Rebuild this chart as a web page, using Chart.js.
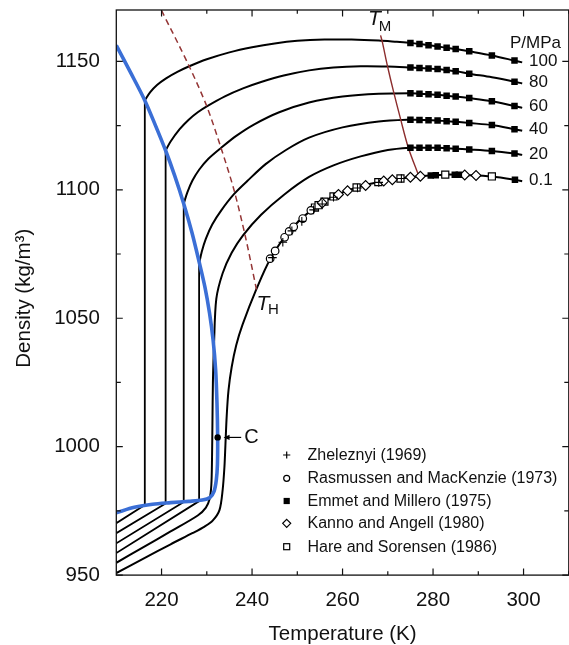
<!DOCTYPE html>
<html><head><meta charset="utf-8">
<script src="https://cdn.jsdelivr.net/npm/chart.js@4.4.1/dist/chart.umd.min.js"></script>
<style>html,body{margin:0;padding:0;background:#fff;overflow:hidden;width:569px;height:645px}canvas{display:block}</style>
</head><body><canvas id="c" width="575" height="645"></canvas>
<script>
// ---- tick labels ----
const xTicks = [220, 240, 260, 280, 300];
const xMinor = [230, 250, 270, 290, 310];
const yTicks = [950, 1000, 1050, 1100, 1150];
const yMinor = [975, 1025, 1075, 1125];

// ---- isobars (T in K, density kg/m3) ----
const isoLabels = ['100', '80', '60', '40', '20', '0.1'];
const labelRho = [1150.2, 1142.0, 1132.6, 1123.7, 1114.0, 1103.8];

const low100 = [[210,970.2],[216.3,977.3],[216.3,1134.8]];
const low80  = [[210,966.3],[220.9,977.9],[220.9,1115.3]];
const low60  = [[210,962.4],[224.9,978.5],[224.9,1094.6]];
const low40  = [[210,958.6],[228.3,978.8],[228.3,1071.3]];

const iso100 = [[216.3,1134.8],[217.5,1138.0],[219,1140.8],[221,1143.4],[223.5,1145.9],[226,1148.0],[230,1150.8],[235,1153.5],[240,1155.5],[245,1157.0],[250,1158.0],[256,1158.5],[262,1158.5],[268,1158.1],[272,1157.6],[275,1157.2],[277,1156.8],[279,1156.3],[281,1155.8],[283,1155.3],[285,1154.8],[288,1153.9],[293,1152.3],[298,1150.3],[299.7,1149.6]];
const iso80 = [[220.9,1115.3],[222,1118.8],[224,1123.6],[226,1127.3],[228,1130.2],[230,1132.5],[234,1136.4],[238,1139.5],[242,1142.0],[247,1144.5],[252.6,1146.5],[258,1147.6],[264,1148.1],[270,1148.0],[275,1147.6],[277,1147.4],[279,1147.2],[281,1147.0],[283,1146.6],[285,1146.2],[288,1145.2],[293,1143.8],[298,1142.1],[299.7,1141.4]];
const iso60 = [[224.9,1094.6],[225.7,1099.0],[226.8,1103.5],[228.3,1107.8],[230.3,1112.0],[233.2,1116.4],[236.5,1121.0],[240.5,1125.5],[246,1130.2],[252.6,1134.0],[260,1136.3],[268,1137.4],[275,1137.6],[277,1137.4],[279,1137.2],[281,1137.0],[283,1136.6],[285,1136.3],[288,1135.7],[293,1134.5],[298,1132.6],[299.7,1131.9]];
const iso40 = [[228.3,1071.3],[228.9,1076.0],[229.8,1081.0],[231.2,1086.5],[233.2,1092.0],[236,1098.3],[239,1103.5],[243,1110.0],[247.5,1115.5],[252.6,1120.3],[260,1124.3],[268,1126.6],[275,1127.3],[277,1127.2],[279,1127.1],[281,1127.0],[283,1126.7],[285,1126.5],[288,1126.0],[293,1125.2],[298,1123.6],[299.7,1123.0]];
const iso20 = [[210,954.8],[216,960.9],[222,967.0],[228,973.2],[229.8,976.3],[230.6,979.5],[231.0,985],[231.15,995],[231.25,1010],[231.35,1025],[231.6,1040],[232.1,1057.5],[233.5,1067.5],[235.5,1075.5],[238,1082.3],[242,1090.3],[247,1098],[252.6,1105],[258,1109.5],[264,1113],[270,1115.5],[275,1116.4],[277,1116.4],[279,1116.4],[281,1116.4],[283,1116.2],[285,1116.0],[288,1115.7],[293,1115.1],[298,1114.1],[299.7,1113.6]];
const iso01 = [[210,950.8],[216,956.4],[222,962.0],[226.9,966.4],[229.5,968.9],[231.3,971.2],[232.8,975.3],[233.5,983.1],[233.9,992.2],[234.1,1000],[234.4,1012],[234.8,1022],[235.5,1031],[236.5,1039.5],[237.9,1047.5],[241,1061.5],[244,1073.0],[248.2,1083.8],[253,1092],[257.8,1097.2],[262.9,1100.8],[269.1,1103.4],[275.4,1105.0],[282.7,1105.9],[288,1105.7],[293,1105.2],[298.1,1103.9],[299.7,1103.3]];

// ---- blue boundary line, T_H and T_M lines ----
const blueLine = [[210,1156.2],[213.2,1145.5],[216.3,1134.8],[218.6,1125.3],[220.9,1115.3],[222.9,1105.5],[224.9,1094.6],[226.7,1083.5],[228.3,1072.0],[229.6,1062],[230.6,1052],[231.4,1041.4],[231.95,1030],[232.25,1017],[232.4,1003.6],[232.35,993],[232.1,987],[231.6,982.6],[230.7,980.2],[229,979.2],[226,978.7],[222,978.2],[218,977.6],[214,976.4],[210,974.3]];
const thLine = [[220.0,1169.8],[226.0,1148.5],[230.0,1132.5],[233.2,1116],[236.0,1100],[238.5,1082],[241.0,1061]];
const tmLine = [[268.4,1160.1],[268.8,1157.5],[269.9,1148.4],[271.3,1138.0],[272.8,1127.7],[274.5,1116.6],[276.8,1105.6]];
const critPoint = [[232.4,1003.6]];

// ---- experimental data ----
const emmetT = [275,277,279,281,283,285,288,293,298];
const em100 = [1157.2,1156.8,1156.3,1155.8,1155.3,1154.8,1153.9,1152.3,1150.3];
const em80  = [1147.6,1147.4,1147.2,1147.0,1146.6,1146.2,1145.2,null,1142.1];
const em60  = [1137.6,1137.4,1137.2,1137.0,1136.6,1136.3,1135.7,1134.5,1132.6];
const em40  = [1127.3,1127.2,1127.1,1127.0,1126.7,1126.5,1126.0,1125.2,1123.6];
const em20  = [1116.4,1116.4,1116.4,1116.4,1116.2,1116.0,1115.7,1115.1,1114.1];
const em01T = [279.5,280.6,284.8,285.7,298.1];
const em01  = [1105.6,1105.7,1105.9,1105.9,1103.9];
const rasT = [244.0,245.1,247.2,248.2,249.2,251.2,253.0];
const rasD = [1073.2,1076.2,1081.5,1083.8,1085.6,1088.8,1092.0];
const hareT = [253.9,254.7,256.0,258.0,263.1,267.9,272.8,282.7,293.0];
const hareD = [1093.1,1094.0,1095.4,1097.4,1100.9,1103.0,1104.4,1105.9,1105.2];
const kanT = [255.5,259.1,261.1,265.1,269.1,271.0,275.0,277.2,287.0,289.5];
const kanD = [1094.9,1098.2,1099.6,1101.7,1103.4,1103.9,1104.9,1105.3,1105.8,1105.6];
const zhT = [244.5,246.8,248.8,251.0,253.6,255.5,258.0,263.3,268.0,273.0];
const zhD = [1073.6,1079.6,1084.0,1087.7,1092.2,1094.5,1097.1,1100.7,1102.9,1104.4];

const legendLabels = ['Zheleznyi (1969)','Rasmussen and MacKenzie (1973)','Emmet and Millero (1975)','Kanno and Angell (1980)','Hare and Sorensen (1986)'];

const FF = '"Liberation Sans", Arial, Helvetica, sans-serif';
const pts = a => a.map(p => ({x:p[0], y:p[1]}));
const zip = (t, d) => t.map((v,i) => d[i] == null ? null : {x:v, y:d[i]}).filter(Boolean);

const lineDs = (data, color, w, tension, order, dash) => ({
  data: pts(data), showLine:true, borderColor:color, borderWidth:w, tension:tension,
  pointRadius:0, fill:false, order:order, borderDash: dash || [], borderCapStyle:'butt', borderJoinStyle:'round'
});

const datasets = [
  // markers
  {data: zip(zhT, zhD), pointStyle:'cross', pointRadius:4.3, borderColor:'#000', borderWidth:1.1, order:0},
  {data: zip(rasT, rasD), pointStyle:'circle', pointRadius:3.8, backgroundColor:'#fff', borderColor:'#000', borderWidth:1.2, order:0},
  {data: [].concat(zip(emmetT,em100), zip(emmetT,em80), zip(emmetT,em60), zip(emmetT,em40), zip(emmetT,em20), zip(em01T,em01)), pointStyle:'rect', pointRadius:4.6, backgroundColor:'#000', borderColor:'#000', borderWidth:0, order:0},
  {data: zip(kanT, kanD), pointStyle:'rectRot', pointRadius:4.9, backgroundColor:'#fff', borderColor:'#000', borderWidth:1.2, order:0},
  {data: zip(hareT, hareD), pointStyle:'rect', pointRadius:5.0, backgroundColor:'#fff', borderColor:'#000', borderWidth:1.2, order:0},
  {data: pts(critPoint), pointStyle:'circle', pointRadius:3.2, backgroundColor:'#000', borderColor:'#000', borderWidth:0, order:0},
  // lines
  lineDs(tmLine, '#8c2d2d', 1.4, 0.3, 1),
  lineDs(thLine, '#943535', 1.5, 0.3, 1, [6,4]),
  lineDs(blueLine, '#3b6fd6', 3.6, 0.3, 2),
  lineDs(low100, '#000', 1.8, 0, 3), lineDs(low80, '#000', 1.8, 0, 3),
  lineDs(low60, '#000', 1.8, 0, 3), lineDs(low40, '#000', 1.8, 0, 3),
  lineDs(iso100, '#000', 2, 0.3, 3), lineDs(iso80, '#000', 2, 0.3, 3),
  lineDs(iso60, '#000', 2, 0.3, 3), lineDs(iso40, '#000', 2, 0.3, 3),
  lineDs(iso20, '#000', 2, 0.3, 3), lineDs(iso01, '#000', 2, 0.3, 3)
];

const deco = {
  id: 'deco',
  afterDatasetsDraw(chart) {
    const {ctx, chartArea: a, scales: {x, y}} = chart;
    ctx.save();
    ctx.strokeStyle = '#111'; ctx.lineWidth = 1.3;
    ctx.strokeRect(a.left, a.top, a.right - a.left, a.bottom - a.top);
    ctx.lineWidth = 1.2;
    const xt = (v, len) => { const px = x.getPixelForValue(v); ctx.beginPath();
      ctx.moveTo(px, a.bottom); ctx.lineTo(px, a.bottom - len); ctx.moveTo(px, a.top); ctx.lineTo(px, a.top + len); ctx.stroke(); };
    const yt = (v, len) => { const py = y.getPixelForValue(v); ctx.beginPath();
      ctx.moveTo(a.left, py); ctx.lineTo(a.left + len, py); ctx.moveTo(a.right, py); ctx.lineTo(a.right - len, py); ctx.stroke(); };
    xTicks.forEach(v => xt(v, 6.5)); xMinor.forEach(v => xt(v, 3.8));
    yTicks.forEach(v => yt(v, 6.5)); yMinor.forEach(v => yt(v, 4.5));

    ctx.fillStyle = '#111'; ctx.textBaseline = 'middle'; ctx.textAlign = 'left';
    // curve labels
    ctx.font = '17px ' + FF;
    isoLabels.forEach((t, i) => ctx.fillText(t, x.getPixelForValue(301.2), y.getPixelForValue(labelRho[i])));
    ctx.fillText('P/MPa', x.getPixelForValue(297.0), y.getPixelForValue(1157.0));
    // T_M and T_H
    ctx.textBaseline = 'alphabetic';
    ctx.font = 'italic 21px ' + FF;
    ctx.fillText('T', x.getPixelForValue(265.6), y.getPixelForValue(1164.0));
    ctx.fillText('T', x.getPixelForValue(241.0), y.getPixelForValue(1053.1));
    ctx.font = '15px ' + FF;
    ctx.fillText('M', x.getPixelForValue(268.0), y.getPixelForValue(1162.0));
    ctx.fillText('H', x.getPixelForValue(243.5), y.getPixelForValue(1051.6));
    // C label and arrow
    const cy = y.getPixelForValue(critPoint[0][1]);
    const ax1 = x.getPixelForValue(237.6), ax0 = x.getPixelForValue(233.7);
    ctx.strokeStyle = '#000'; ctx.lineWidth = 1.2;
    ctx.beginPath(); ctx.moveTo(ax1, cy); ctx.lineTo(ax0 + 4, cy); ctx.stroke();
    ctx.fillStyle = '#000';
    ctx.beginPath(); ctx.moveTo(ax0, cy); ctx.lineTo(ax0 + 6, cy - 2.6); ctx.lineTo(ax0 + 6, cy + 2.6); ctx.closePath(); ctx.fill();
    ctx.fillStyle = '#111'; ctx.textBaseline = 'middle';
    ctx.font = '20px ' + FF;
    ctx.fillText('C', x.getPixelForValue(238.3), cy + 0.5);
    // legend
    const lx = a.left + 170.4, tx = a.left + 191.2;
    const rows = [455, 478.3, 501, 523.3, 546.7];
    ctx.font = '16px ' + FF;
    legendLabels.forEach((t, i) => {
      const ly = rows[i];
      ctx.strokeStyle = '#000'; ctx.fillStyle = '#000'; ctx.lineWidth = 1.2;
      ctx.beginPath();
      if (i === 0) { ctx.moveTo(lx - 3.6, ly); ctx.lineTo(lx + 3.6, ly); ctx.moveTo(lx, ly - 3.6); ctx.lineTo(lx, ly + 3.6); ctx.stroke(); }
      else if (i === 1) { ctx.arc(lx, ly, 3.0, 0, Math.PI * 2); ctx.stroke(); }
      else if (i === 2) { ctx.fillRect(lx - 3.1, ly - 3.1, 6.2, 6.2); }
      else if (i === 3) { ctx.moveTo(lx, ly - 4); ctx.lineTo(lx + 4, ly); ctx.lineTo(lx, ly + 4); ctx.lineTo(lx - 4, ly); ctx.closePath(); ctx.stroke(); }
      else { ctx.strokeRect(lx - 3, ly - 3, 6, 6); }
      ctx.fillStyle = '#111';
      ctx.fillText(t, tx, ly + 0.5);
    });
    ctx.restore();
  }
};

new Chart(document.getElementById('c'), {
  type: 'scatter',
  data: { datasets },
  options: {
    responsive: false, animation: false, devicePixelRatio: 1,
    layout: { padding: { left: 0, right: 4.5, top: 10, bottom: 0 } },
    plugins: { legend: { display: false }, tooltip: { enabled: false } },
    scales: {
      x: {
        type: 'linear', min: 210, max: 310,
        afterBuildTicks: s => { s.ticks = xTicks.map(v => ({ value: v })); },
        afterFit: s => { s.height = 69.9; s.paddingLeft = 0; s.paddingRight = 0; },
        grid: { display: false, drawTicks: false }, border: { display: false },
        ticks: { font: { family: FF, size: 20.5 }, color: '#111', padding: 13, maxRotation: 0, autoSkip: false, callback: v => String(v) },
        title: { display: true, text: 'Temperature (K)', color: '#111', font: { family: FF, size: 20.5, lineHeight: 1 }, padding: { top: 0, bottom: 0.2 } }
      },
      y: {
        type: 'linear', min: 950, max: 1170,
        afterBuildTicks: s => { s.ticks = yTicks.map(v => ({ value: v })); },
        afterFit: s => { s.width = 116.3; s.paddingTop = 0; s.paddingBottom = 0; },
        grid: { display: false, drawTicks: false }, border: { display: false },
        ticks: { font: { family: FF, size: 20.5 }, color: '#111', padding: 16.5, autoSkip: false, callback: v => String(v) },
        title: { display: true, text: 'Density (kg/m³)  ', color: '#111', font: { family: FF, size: 20.5, lineHeight: 1 }, padding: { top: 14.2, bottom: 0 } }
      }
    }
  },
  plugins: [deco]
});
</script></body></html>
